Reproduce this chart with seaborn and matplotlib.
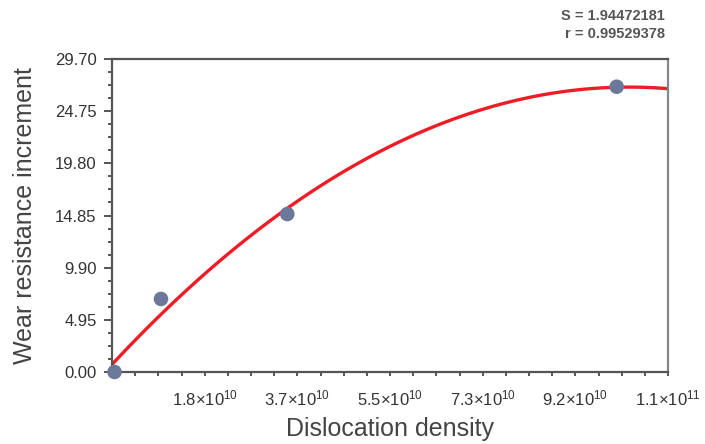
import numpy as np
import pandas as pd
import matplotlib
matplotlib.use("Agg")
import matplotlib.pyplot as plt
from matplotlib.ticker import FixedLocator, MultipleLocator
import seaborn as sns

# Data
dislocation_density = [0.05e10, 0.969e10, 3.468e10, 9.985e10]
wear_increment = [0.0, 6.93, 14.99, 27.07]
x_tick_values = [0.0, 1.8333e10, 3.6667e10, 5.5e10, 7.3333e10, 9.1667e10, 1.1e11]
x_tick_labels = ["", r"1.8×10$^{10}$", r"3.7×10$^{10}$", r"5.5×10$^{10}$",
                 r"7.3×10$^{10}$", r"9.2×10$^{10}$", r"1.1×10$^{11}$"]
y_tick_values = [0.0, 4.95, 9.90, 14.85, 19.80, 24.75, 29.70]
y_tick_labels = ["0.00", "4.95", "9.90", "14.85", "19.80", "24.75", "29.70"]
stat_lines = ["S = 1.94472181", "r = 0.99529378"]

df = pd.DataFrame({"x": dislocation_density, "y": wear_increment})

sns.set_theme(style="white")
plt.rcParams["font.family"] = ["Liberation Sans", "DejaVu Sans"]
plt.rcParams["mathtext.fontset"] = "custom"
plt.rcParams["mathtext.rm"] = "Liberation Sans"
plt.rcParams["mathtext.it"] = "Liberation Sans:italic"
plt.rcParams["mathtext.bf"] = "Liberation Sans:bold"

fig = plt.figure(figsize=(7.05, 4.44), dpi=100)
ax = fig.add_axes([112 / 705, 72 / 444, 556 / 705, 313 / 444])

ax.set_xlim(0, 1.1e11)
ax.set_ylim(0, 29.7)

sns.regplot(data=df, x="x", y="y", order=2, ci=None, truncate=False,
            scatter=False, ax=ax,
            line_kws=dict(color="#ee1c25", lw=2.4, zorder=2))
sns.scatterplot(data=df, x="x", y="y", ax=ax, s=110, color="#6b7899",
                edgecolor="none", zorder=3, clip_on=False, legend=False)

ax.set_xlim(0, 1.1e11)
ax.set_ylim(0, 29.7)

spine_color = "#555555"
for sp in ax.spines.values():
    sp.set_color(spine_color)
    sp.set_linewidth(1.6)
ax.spines["right"].set_color("#888888")

ax.xaxis.set_major_locator(FixedLocator(x_tick_values))
ax.set_xticklabels(x_tick_labels)
ax.xaxis.set_minor_locator(MultipleLocator(1.1e11 / 24))
ax.yaxis.set_major_locator(FixedLocator(y_tick_values))
ax.set_yticklabels(y_tick_labels)
ax.yaxis.set_minor_locator(MultipleLocator(4.95 / 4))

ax.tick_params(axis="both", which="both", direction="out", length=3.2,
               width=1.4, color=spine_color, labelsize=12, labelcolor="#333333",
               bottom=True, left=True)
ax.tick_params(axis="x", which="major", pad=9)
ax.tick_params(axis="y", which="major", length=5.5, pad=5.5)

ax.set_xlabel("Dislocation density", fontsize=18, color="#444444", labelpad=6)
ax.set_ylabel("Wear resistance increment", fontsize=18, color="#444444", labelpad=13)

fig.text(665 / 705, 1 - 16 / 444, stat_lines[0], ha="right", va="center",
         fontsize=10.5, fontweight="bold", color="#555555")
fig.text(665 / 705, 1 - 34 / 444, stat_lines[1], ha="right", va="center",
         fontsize=10.5, fontweight="bold", color="#555555")

fig.savefig("out.png", dpi=100)
